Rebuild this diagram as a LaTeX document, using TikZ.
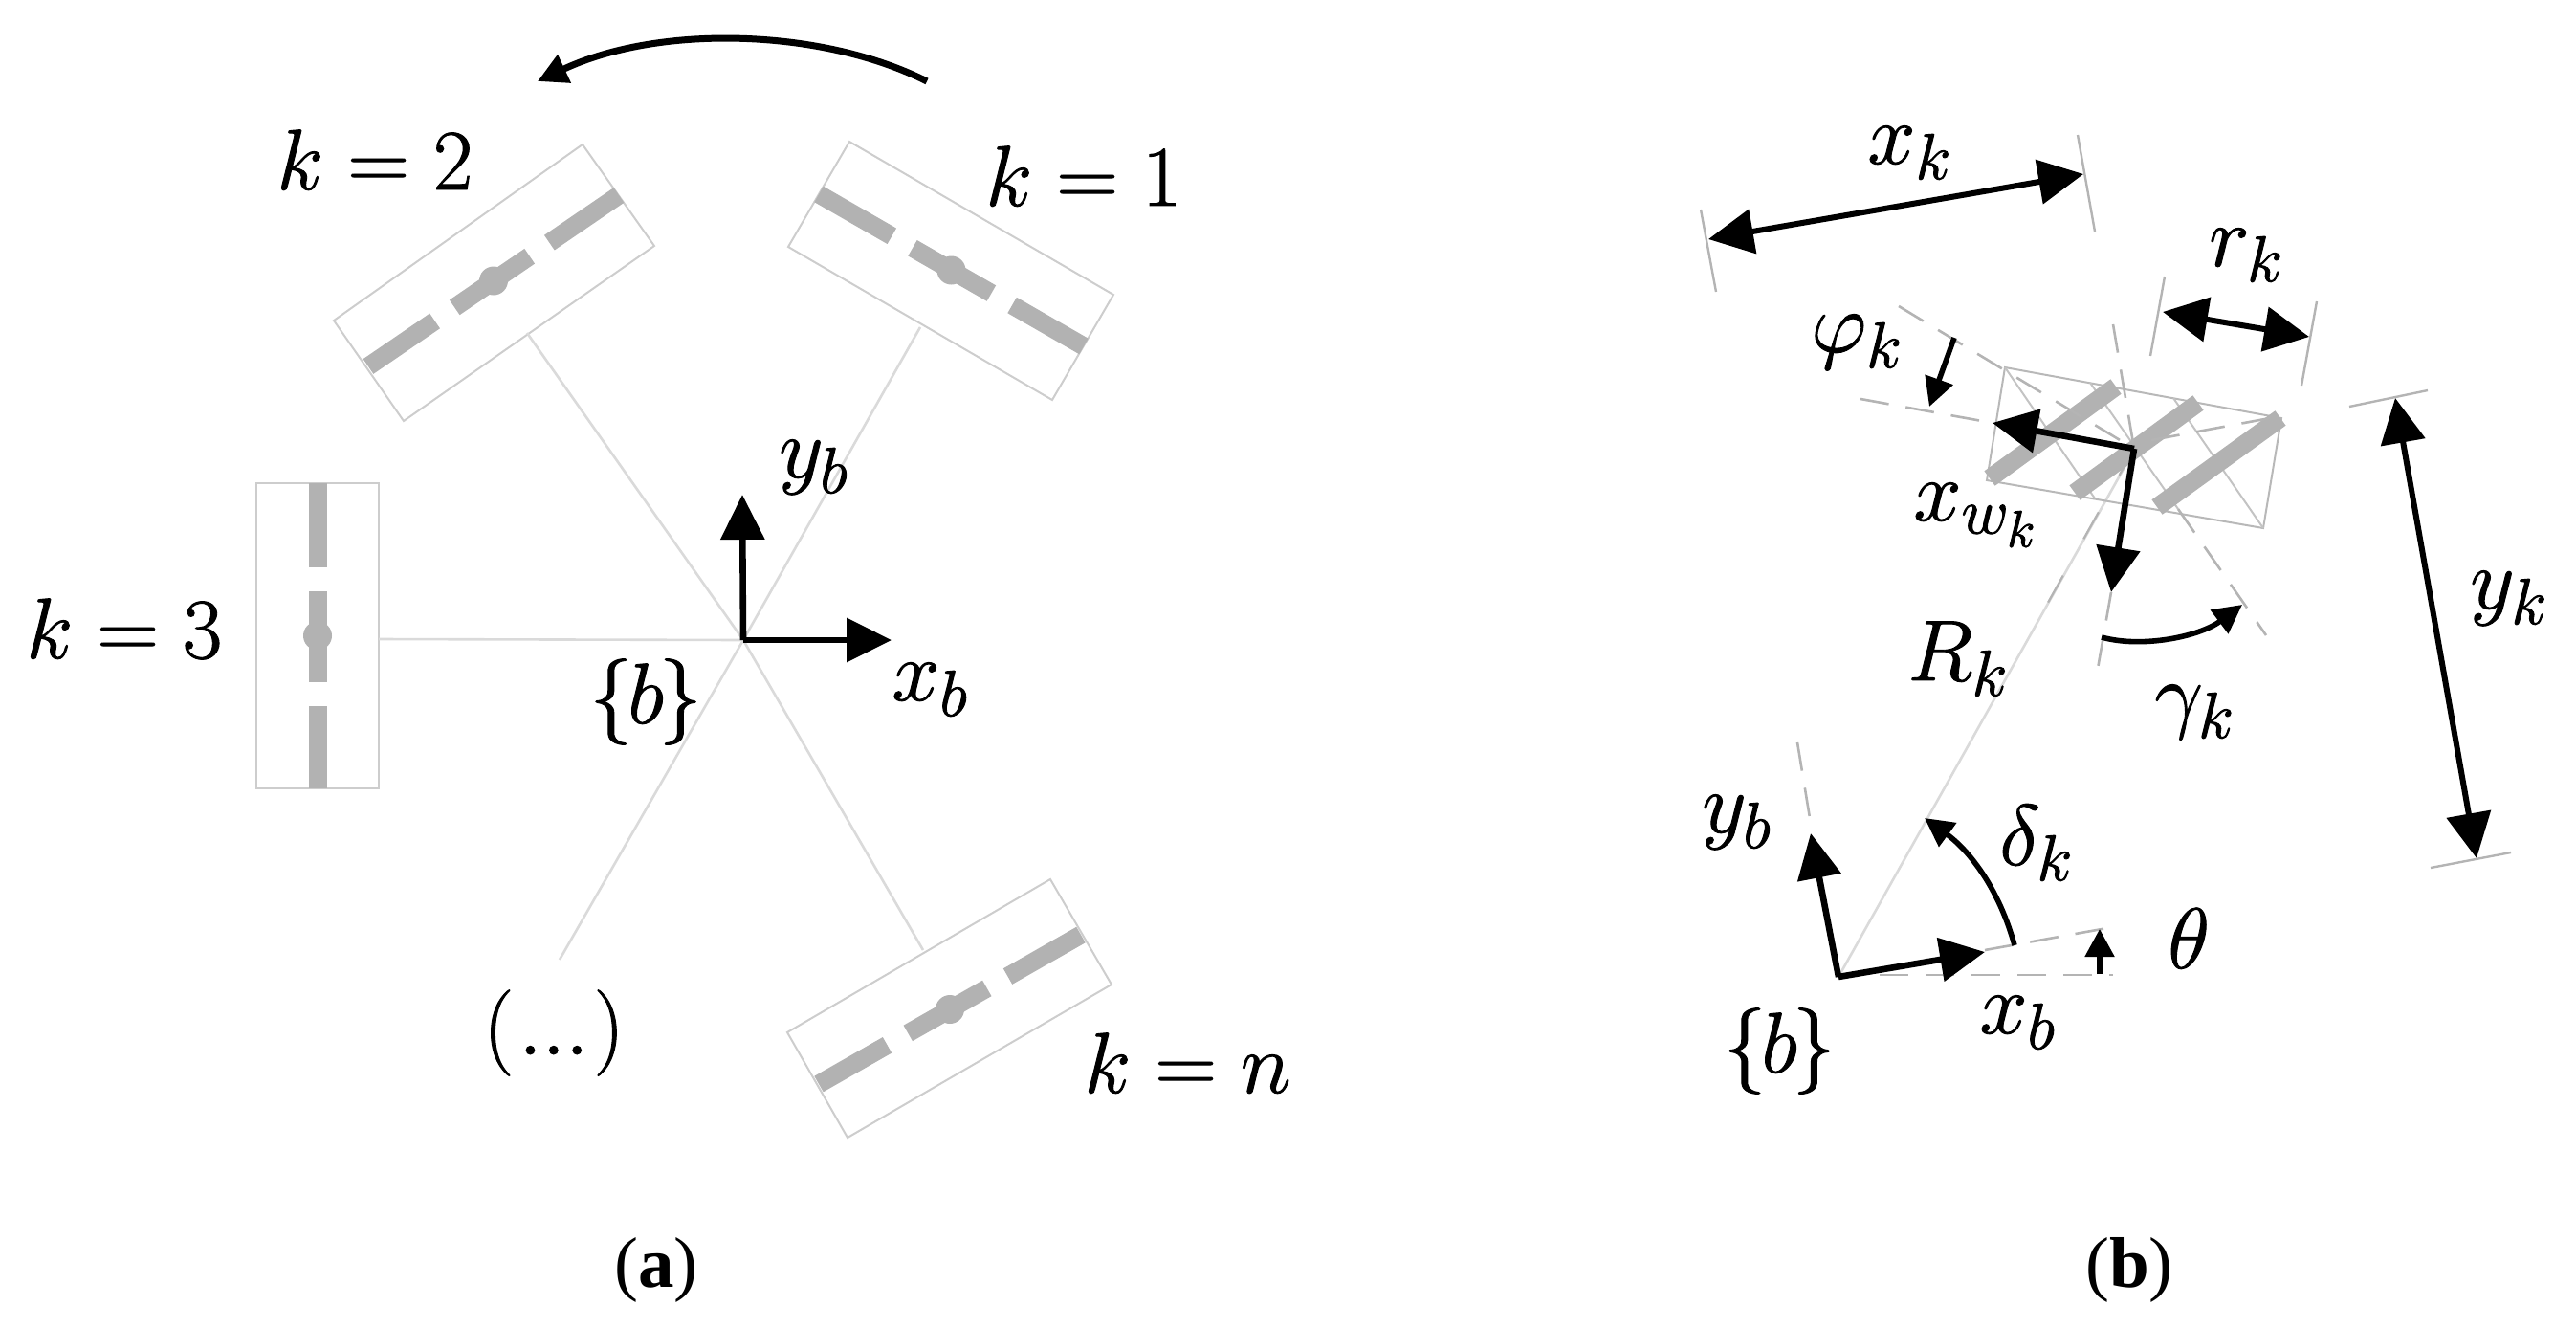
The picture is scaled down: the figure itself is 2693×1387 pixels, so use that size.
\RequirePackage{fix-cm}
\documentclass[tikz,border=0pt]{standalone}
\usepackage{fontspec}
\newfontfamily\capfont{Liberation Serif}
\usetikzlibrary{arrows.meta,calc}
\DeclareMathSizes{45}{45}{34}{27}
\definecolor{wheelgray}{HTML}{B2B2B2}
\definecolor{boxgray}{HTML}{CDCDCD}
\definecolor{spokegray}{HTML}{DADADA}
\definecolor{tickgray}{HTML}{B4B4B4}
\tikzset{
  lbl/.style={inner sep=0pt,anchor=base west,font=\fontsize{45}{52}\selectfont,
    execute at begin node={\special{pdf:code 2 Tr 0.45 w}},
    execute at end node={\special{pdf:code 0 Tr}}},
  subcap/.style={inner sep=0pt,anchor=base,font=\fontsize{37.5}{44}\capfont},
  boxline/.style={draw=boxgray,line width=1pt,line join=miter},
  spokeline/.style={draw=spokegray,line width=1.3pt},
  wheeldash/.style={draw=wheelgray,line width=9.5pt,dash pattern=on 44pt off 12.5pt on 47.5pt off 12.5pt on 44pt},
  hubdot/.style={fill=wheelgray},
  bigarrow/.style={draw=black,line width=3.3pt,-{Triangle[length=23.5pt,width=22.5pt]}},
  dimarrow/.style={draw=black,line width=3pt,{Triangle[length=23.5pt,width=23pt]}-{Triangle[length=23.5pt,width=23pt]}},
  smallarrow/.style={draw=black,line width=2.8pt,-{Triangle[length=15pt,width=15pt]}},
  tickline/.style={draw=tickgray,line width=1.2pt},
  dashline/.style={draw=tickgray,line width=1.3pt,dash pattern=on 15pt off 9pt},
  bwheel/.style={draw=wheelgray,line width=9.5pt},
  innerline/.style={draw=tickgray!80,line width=1pt},
}
\newcommand{\drawwheel}[2]{%
  \draw[wheeldash] (#1) -- (#2);
  \fill[hubdot] ($(#1)!.5!(#2)$) circle[radius=7.5pt];
}
\begin{document}
\begin{tikzpicture}[x=0.5pt,y=-0.5pt]
\useasboundingbox (0,0) rectangle (2693,1387);
% ---- panel (a)
\coordinate (O) at (777,669);
% k=1
\draw[boxline] (888,148) -- (1164,308) -- (1100,418) -- (824,258) -- cycle;
\coordinate (w1a) at (856,203); \coordinate (w1b) at (1133,362);
\drawwheel{w1a}{w1b}
% k=2
\draw[boxline] (609,151) -- (684,257) -- (422,440) -- (349,335) -- cycle;
\coordinate (w2a) at (647,204); \coordinate (w2b) at (385,383);
\drawwheel{w2a}{w2b}
% k=3
\draw[boxline] (268,505) rectangle (396,824);
\coordinate (w3a) at (332,505); \coordinate (w3b) at (332,824);
\drawwheel{w3a}{w3b}
% k=n
\draw[boxline] (1098,919) -- (1162,1029) -- (886,1189) -- (823,1079) -- cycle;
\coordinate (w4a) at (1130,977); \coordinate (w4b) at (856,1133);
\drawwheel{w4a}{w4b}
% spokes
\coordinate (s1) at (962,342); \coordinate (s2) at (551,348);
\coordinate (s3) at (396,668); \coordinate (s4) at (965,993);
\coordinate (s5) at (585,1003);
\foreach \s in {s1,s2,s3,s4,s5} \draw[spokeline] (O) -- (\s);
% frame
\coordinate (ya) at (776,517); \coordinate (xa) at (932,669);
\draw[bigarrow] (O) -- (ya);
\draw[bigarrow] (O) -- (xa);
% rotation arrow
\coordinate (rs) at (969,85); \coordinate (re) at (562,85);
\draw[draw=black,line width=3.5pt,-{Triangle[length=15.5pt,width=15.5pt]}] (rs) .. controls (860,30) and (690,25) .. (re);
% labels (a)
\node[lbl] (k1) at (1030,215) {$k=1$};
\node[lbl] (k2) at (289,198) {$k=2$};
\node[lbl] (k3) at (27,688) {$k=3$};
\node[lbl] (kn) at (1133,1142) {$k=n$};
\node[lbl] (dots) at (505,1102) {$(\mkern1mu\mathbf{...}\mkern1mu)$};
\node[lbl] (yba) at (814,499) {$y_b$};
\node[lbl] (xba) at (932,732) {$x_b$};
\node[lbl] (bra) at (616,756) {$\{\mkern-1mu b\mkern-1mu\}$};
\node[subcap] (capa) at (686,1345) {(\textbf{a})};
% ---- panel (b)
\coordinate (C) at (2231,469);
\coordinate (B) at (1922,1021);
% R_k
\coordinate (Rend) at (2234,465);
\draw[spokeline] (B) -- (Rend);
\draw[draw=tickgray,line width=1.1pt,dash pattern=on 16pt off 22pt] (C) -- ($(B)!.67!(C)$);
% wheel box
\draw[draw=boxgray!90!black,line width=1pt] (2096,384) -- (2385,437) -- (2366,552) -- (2077,502) -- cycle;
\draw[innerline] (2096,384) -- (2190,521);
\draw[innerline] (2272,416) -- (2366,552);
\draw[innerline] (2185,400) -- (2277,532);
% rollers
\draw[bwheel] (2212,404) -- (2080,500);
\draw[bwheel] (2298,421) -- (2169,515);
\draw[bwheel] (2384,437) -- (2255,530);
% dashed references
\draw[dashline] (1985,320) -- (C);
\draw[dashline] (1945,417) -- (2083,442);
\draw[dashline] (2249,460) -- (2373,437);
\draw[dashline] (2209,339) -- (C);
\draw[dashline] (2207,619) -- (2191,710);
\draw[dashline] (2277,532) -- (2369,664);
% ticks
\coordinate (t1a) at (1778,219); \coordinate (t1b) at (1794,305);
\coordinate (t2a) at (2172,141); \coordinate (t2b) at (2190,242);
\coordinate (t3a) at (2263,289); \coordinate (t3b) at (2248,372);
\coordinate (t4a) at (2422,315); \coordinate (t4b) at (2406,403);
\coordinate (t5a) at (2456,425); \coordinate (t5b) at (2538,408);
\coordinate (t6a) at (2541,907); \coordinate (t6b) at (2625,891);
\foreach \a/\b in {t1a/t1b,t2a/t2b,t3a/t3b,t4a/t4b,t5a/t5b,t6a/t6b} \draw[tickline] (\a) -- (\b);
% dimension arrows
\coordinate (xkl) at (1786,250); \coordinate (xkr) at (2178,182);
\draw[dimarrow] (xkl) -- (xkr);
\coordinate (rkl) at (2261,326); \coordinate (rkr) at (2414,352);
\draw[dimarrow] (rkl) -- (rkr);
\coordinate (ykt) at (2504,416); \coordinate (ykb) at (2589,897);
\draw[dimarrow] (ykt) -- (ykb);
% wheel frame
\coordinate (xwt) at (2083,442); \coordinate (ywt) at (2207,619);
\draw[bigarrow] (C) -- (xwt);
\draw[bigarrow] (C) -- (ywt);
% phi arrow
\coordinate (pa) at (2043,353); \coordinate (pb) at (2017,425);
\draw[smallarrow] (pa) -- (pb);
% gamma arc
\coordinate (ga) at (2197,666); \coordinate (gb) at (2344,632);
\draw[smallarrow] (ga) .. controls (2240,678) and (2300,665) .. (gb);
% base frame
\draw[dashline] (1965,1019) -- (2209,1019);
\draw[dashline] (2075,993) -- (2203,970);
\draw[dashline] (1879,776) -- (1892,855);
\coordinate (ybt) at (1893,871); \coordinate (xbt) at (2075,995);
\draw[bigarrow] (B) -- (ybt);
\draw[bigarrow] (B) -- (xbt);
% delta arc
\coordinate (da) at (2106,988); \coordinate (db) at (2012,855);
\draw[smallarrow] (da) .. controls (2090,930) and (2060,890) .. (db);
% theta arrow
\coordinate (tha) at (2195,1018); \coordinate (thb) at (2195,971);
\draw[draw=black,line width=2.6pt,-{Triangle[length=14.5pt,width=15pt]}] (tha) -- (thb);
% labels (b)
\node[lbl] (xk) at (1952,171) {$x_k$};
\node[lbl] (rk) at (2309,278) {$r_k$};
\node[lbl] (phik) at (1893,368) {$\varphi_k$};
\node[lbl] (xwk) at (2000,544) {$x_{w_k}$};
\node[lbl] (yk) at (2582,636) {$y_k$};
\node[lbl] (Rk) at (1994,711) {$R_k$};
\node[lbl] (gk) at (2252,755) {$\gamma_k$};
\node[lbl] (ybb) at (1779,870) {$y_b$};
\node[lbl] (dk) at (2090,904) {$\delta_k$};
\node[lbl] (th) at (2266,1012) {$\theta$};
\node[lbl] (xbb) at (2069,1080) {$x_b$};
\node[lbl] (brb) at (1801,1121) {$\{\mkern-1mu b\mkern-1mu\}$};
\node[subcap] (capb) at (2226,1345) {(\textbf{b})};
\end{tikzpicture}
\end{document}
